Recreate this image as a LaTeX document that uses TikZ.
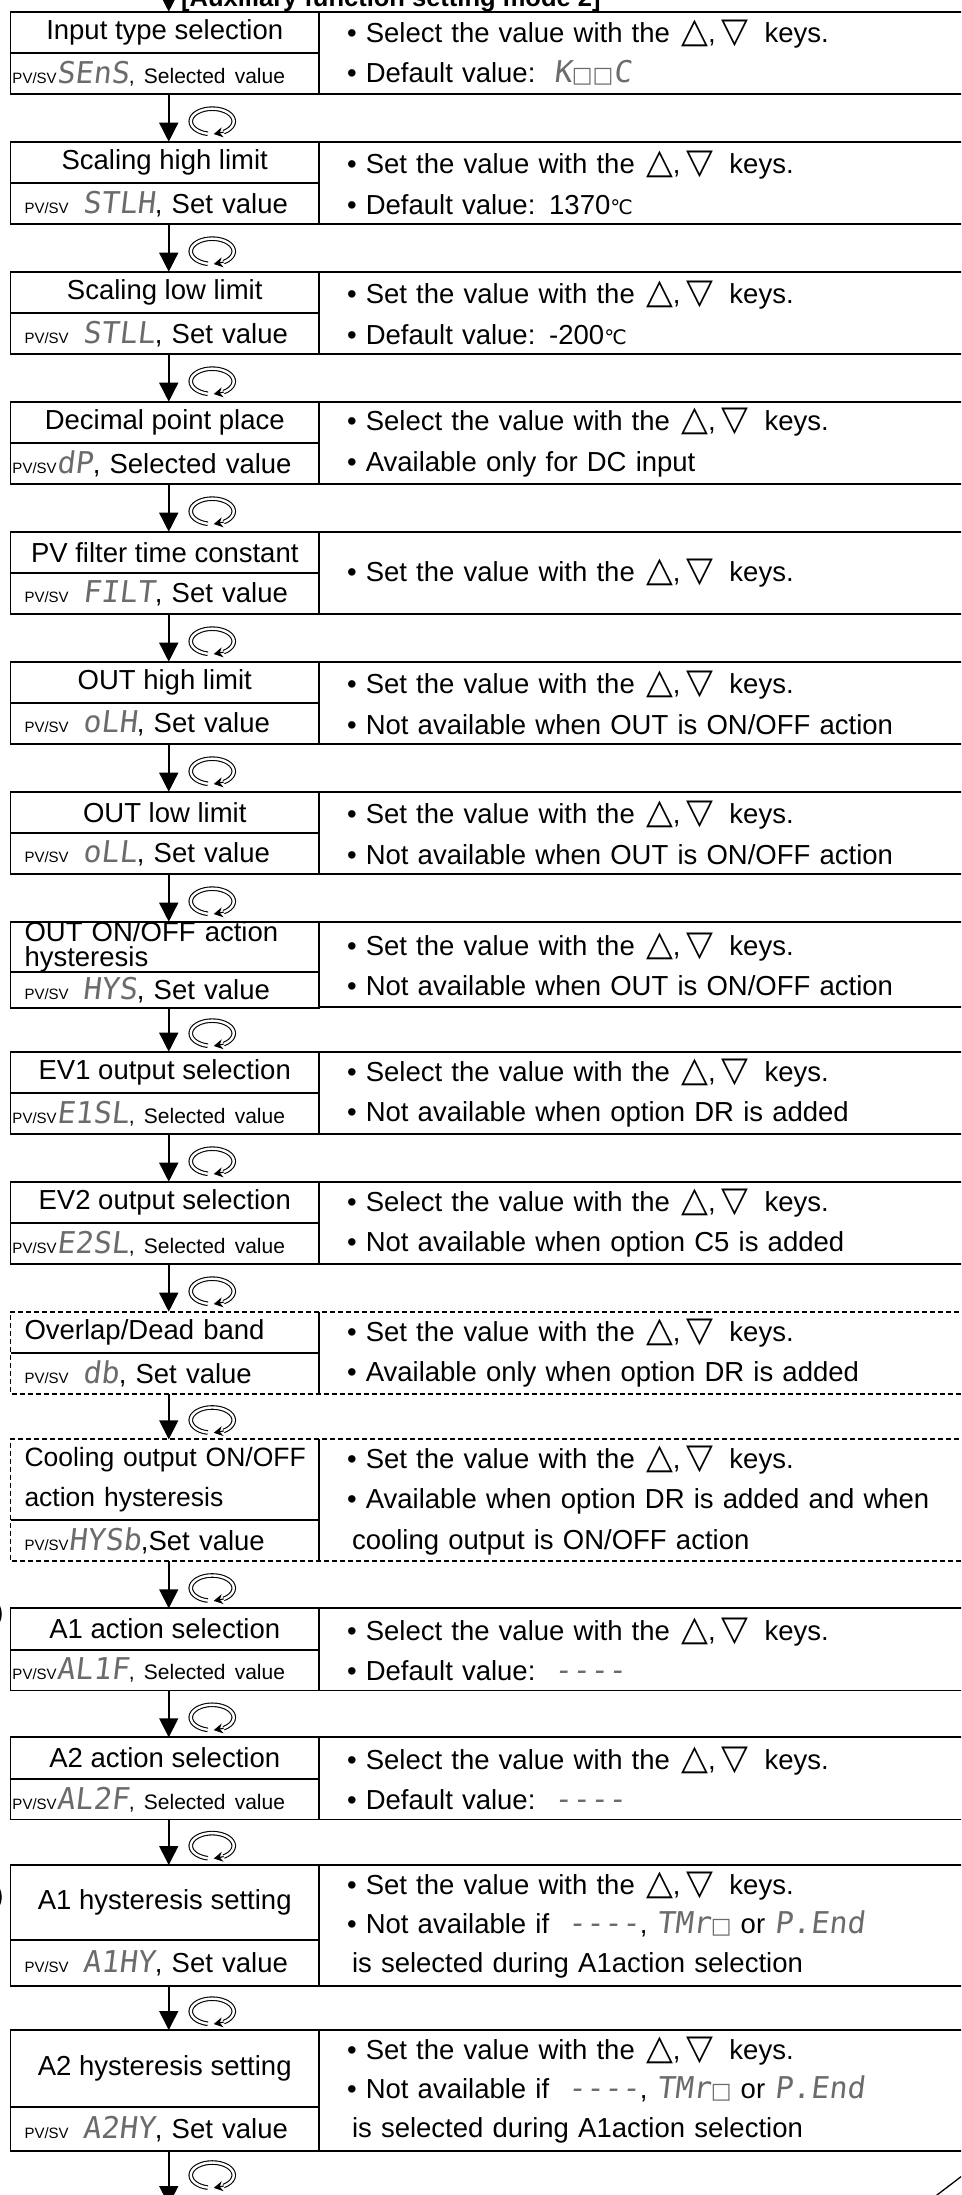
\documentclass[tikz,border=0pt]{standalone}
\usepackage{fontspec}
\setmainfont{Liberation Sans}
\newfontfamily\keyfont{DejaVu Sans}
\newfontfamily\dispfont[FakeSlant=0.12]{DejaVu Sans Mono}
\usetikzlibrary{arrows.meta, positioning, calc}

\definecolor{segcol}{gray}{0.42}

\newcommand{\mainsize}{\fontsize{27.5}{40.5}\selectfont}
\newcommand{\pvsv}{{\fontsize{15}{15}\selectfont PV/SV}}
\newcommand{\dispcode}[1]{{\dispfont\fontsize{30}{30}\selectfont\color{segcol}#1}}
\newcommand{\blankdig}{{\keyfont\fontsize{22}{22}\selectfont\color{segcol}□}}
\newcommand{\selval}{{\fontsize{21}{21}\selectfont , Selected value}}
\newcommand{\keyset}{\hspace{2pt}{\keyfont\fontsize{35}{35}\selectfont △},\hspace{6pt}{\keyfont\fontsize{35}{35}\selectfont ▽}\hspace{16pt}keys.}
\newcommand{\degc}{{\keyfont\fontsize{20}{20}\selectfont ℃}}

\begin{document}
\begin{tikzpicture}[
    x=1pt, y=1pt,
    font=\mainsize,
    namecell/.style={
        draw,
        line width=1.7pt,
        minimum width=308.5pt,
        minimum height=41.6pt,
        inner sep=0pt,
        outer sep=0pt,
        anchor=north west
    },
    nameleft/.style={namecell, text width=280.5pt, inner xsep=14pt, align=left},
    pvcell/.style={namecell, minimum height=40.7pt, text width=280.5pt, inner xsep=14pt, align=left},
    pvwide/.style={pvcell, text width=304.5pt, inner xsep=2pt},
    desccell/.style={
        draw,
        line width=1.7pt,
        minimum width=656pt,
        minimum height=82.3pt,
        text width=600pt,
        inner xsep=28pt,
        inner ysep=0pt,
        outer sep=0pt,
        align=left,
        anchor=north west
    },
    cellline/.style={line width=1.7pt},
    dashline/.style={line width=1.7pt, dash pattern=on 5pt off 3pt},
    flowarrow/.style={line width=1.5pt, -{Triangle[length=19pt, width=19pt]}},
    rotsym/.pic={
        \draw[line width=1.1pt, double distance=2.4pt]
            (258:21.5 and 12.7) arc[start angle=258, end angle=-58, x radius=21.5, y radius=12.7];
        \draw[line width=1.1pt, -{Stealth[length=9pt, width=10pt]}]
            (-58:21.5 and 12.7) -- (-86:21.5 and 12.7);
    }
]

    \useasboundingbox (0,0) rectangle (961,-2195);
    \clip (0,0) rectangle (961,-2195);

    % title, cut at the top edge
    \node[font=\bfseries\fontsize{25.5}{25.5}\selectfont, anchor=base west, inner sep=0pt] (title) at (181,-6.5) {[Auxiliary function setting mode 2]};
    \coordinate (head) at (168.75,25);

    % Input type selection
    \node[namecell] (n1) at (10.5,-11.7) {Input type selection};
    \node[pvwide, below=0pt of n1] (p1) {\pvsv\dispcode{SEnS}\selval};
    \node[desccell] (d1) at (n1.north east) {\textbullet\ Select the value with the \keyset\\\textbullet\ Default value:\ \ \dispcode{K}\blankdig\blankdig\dispcode{C}};

    % Scaling high limit
    \node[namecell] (n2) at (10.5,-141.7) {Scaling high limit};
    \node[pvcell, below=0pt of n2] (p2) {\pvsv\hspace{14pt}\dispcode{STLH}, Set value};
    \node[desccell] (d2) at (n2.north east) {\textbullet\ Set the value with the \keyset\\\textbullet\ Default value: 1370\degc};

    % Scaling low limit
    \node[namecell] (n3) at (10.5,-271.7) {Scaling low limit};
    \node[pvcell, below=0pt of n3] (p3) {\pvsv\hspace{14pt}\dispcode{STLL}, Set value};
    \node[desccell] (d3) at (n3.north east) {\textbullet\ Set the value with the \keyset\\\textbullet\ Default value: -200\degc};

    % Decimal point place
    \node[namecell] (n4) at (10.5,-401.7) {Decimal point place};
    \node[pvwide, below=0pt of n4] (p4) {\pvsv\dispcode{dP}, Selected value};
    \node[desccell] (d4) at (n4.north east) {\textbullet\ Select the value with the \keyset\\\textbullet\ Available only for DC input};

    % PV filter time constant
    \node[namecell] (n5) at (10.5,-531.7) {PV filter time constant};
    \node[pvcell, below=0pt of n5] (p5) {\pvsv\hspace{14pt}\dispcode{FILT}, Set value};
    \node[desccell] (d5) at (n5.north east) {\textbullet\ Set the value with the \keyset};

    % OUT high limit
    \node[namecell] (n6) at (10.5,-661.7) {OUT high limit};
    \node[pvcell, below=0pt of n6] (p6) {\pvsv\hspace{14pt}\dispcode{oLH}, Set value};
    \node[desccell] (d6) at (n6.north east) {\textbullet\ Set the value with the \keyset\\\textbullet\ Not available when OUT is ON/OFF action};

    % OUT low limit
    \node[namecell] (n7) at (10.5,-791.7) {OUT low limit};
    \node[pvcell, below=0pt of n7] (p7) {\pvsv\hspace{14pt}\dispcode{oLL}, Set value};
    \node[desccell] (d7) at (n7.north east) {\textbullet\ Set the value with the \keyset\\\textbullet\ Not available when OUT is ON/OFF action};

    % OUT ON/OFF action hysteresis
    \node[nameleft, minimum height=50pt, font=\fontsize{27.5}{25}\selectfont] (n8) at (10.5,-921.7) {OUT ON/OFF action\\hysteresis};
    \node[pvcell, minimum height=35.6pt, below=0pt of n8] (p8) {\pvsv\hspace{14pt}\dispcode{HYS}, Set value};
    \node[desccell, minimum height=85.6pt] (d8) at (n8.north east) {\textbullet\ Set the value with the \keyset\\\textbullet\ Not available when OUT is ON/OFF action};

    % EV1 output selection
    \node[namecell] (n9) at (10.5,-1051.7) {EV1 output selection};
    \node[pvwide, below=0pt of n9] (p9) {\pvsv\dispcode{E1SL}\selval};
    \node[desccell] (d9) at (n9.north east) {\textbullet\ Select the value with the \keyset\\\textbullet\ Not available when option DR is added};

    % EV2 output selection
    \node[namecell] (n10) at (10.5,-1181.7) {EV2 output selection};
    \node[pvwide, below=0pt of n10] (p10) {\pvsv\dispcode{E2SL}\selval};
    \node[desccell] (d10) at (n10.north east) {\textbullet\ Select the value with the \keyset\\\textbullet\ Not available when option C5 is added};

    % Overlap/Dead band (option, dashed)
    \node[nameleft, draw=none] (n11) at (10.5,-1311.7) {Overlap/Dead band};
    \node[pvcell, draw=none, below=0pt of n11] (p11) {\pvsv\hspace{14pt}\dispcode{db}, Set value};
    \node[desccell, draw=none] (d11) at (n11.north east) {\textbullet\ Set the value with the \keyset\\\textbullet\ Available only when option DR is added};
    \draw[cellline] (n11.south west) -- (n11.south east);
    \draw[cellline] (n11.north east) -- (p11.south east);
    \draw[dashline] (d11.north east) -- (n11.north west) -- (p11.south west) -- (d11.south east);

    % Cooling output ON/OFF action hysteresis (option, dashed)
    \node[nameleft, draw=none, minimum height=80.7pt, font=\fontsize{26.5}{40}\selectfont] (n12) at (10.5,-1439.3) {\mbox{Cooling output ON/OFF}\\action hysteresis};
    \node[pvcell, draw=none, minimum height=41pt, below=0pt of n12] (p12) {\pvsv\dispcode{HYSb},Set value};
    \node[desccell, draw=none, minimum height=121.7pt] (d12) at (n12.north east) {\textbullet\ Set the value with the \keyset\\\textbullet\ Available when option DR is added and when\\\hspace*{5pt}cooling output is ON/OFF action};
    \draw[cellline] (n12.south west) -- (n12.south east);
    \draw[cellline] (n12.north east) -- (p12.south east);
    \draw[dashline] (d12.north east) -- (n12.north west) -- (p12.south west) -- (d12.south east);

    % A1 action selection
    \node[namecell] (n13) at (10.5,-1608.3) {A1 action selection};
    \node[pvwide, below=0pt of n13] (p13) {\pvsv\dispcode{AL1F}\selval};
    \node[desccell] (d13) at (n13.north east) {\textbullet\ Select the value with the \keyset\\\textbullet\ Default value:\ \ \dispcode{----}};

    % A2 action selection
    \node[namecell] (n14) at (10.5,-1737.3) {A2 action selection};
    \node[pvwide, below=0pt of n14] (p14) {\pvsv\dispcode{AL2F}\selval};
    \node[desccell] (d14) at (n14.north east) {\textbullet\ Select the value with the \keyset\\\textbullet\ Default value:\ \ \dispcode{----}};

    % A1 hysteresis setting
    \node[namecell, minimum height=75pt] (n15) at (10.5,-1865) {A1 hysteresis setting};
    \node[pvcell, minimum height=45.7pt, below=0pt of n15] (p15) {\pvsv\hspace{14pt}\dispcode{A1HY}, Set value};
    \node[desccell, minimum height=120.7pt, font=\fontsize{27.5}{39}\selectfont] (d15) at (n15.north east) {\textbullet\ Set the value with the \keyset\\\textbullet\ Not available if\ \ \dispcode{----}, \dispcode{TMr}\blankdig{} or \dispcode{P.End}\\\hspace*{5pt}is selected during A1action selection};

    % A2 hysteresis setting
    \node[namecell, minimum height=76.7pt] (n16) at (10.5,-2030) {A2 hysteresis setting};
    \node[pvcell, minimum height=44pt, below=0pt of n16] (p16) {\pvsv\hspace{14pt}\dispcode{A2HY}, Set value};
    \node[desccell, minimum height=120.7pt, font=\fontsize{27.5}{39}\selectfont] (d16) at (n16.north east) {\textbullet\ Set the value with the \keyset\\\textbullet\ Not available if\ \ \dispcode{----}, \dispcode{TMr}\blankdig{} or \dispcode{P.End}\\\hspace*{5pt}is selected during A1action selection};
    \coordinate (tail) at (168.75,-2205);

    % Flow arrows with the mode key symbol
    \draw[flowarrow] (head) -- ([xshift=4pt]n1.north);
    \foreach \a/\b in {1/2, 2/3, 3/4, 4/5, 5/6, 6/7, 7/8, 8/9, 9/10, 10/11, 11/12, 12/13, 13/14, 14/15, 15/16} {
        \draw[flowarrow] ([xshift=4pt]p\a.south) -- ([xshift=4pt]n\b.north);
        \pic at ($(p\a.south)!0.5!(n\b.north)+(47.5,-3.5)$) {rotsym};
    }
    \draw[flowarrow] ([xshift=4pt]p16.south) -- (tail);
    \pic at ($(p16.south)+(47.5,-24.5)$) {rotsym};

    % pieces of the neighbouring page, cut at the edges
    \draw[line width=1.5pt] (-18,-1614) circle[radius=19];
    \draw[line width=1.5pt] (-18,-1897) circle[radius=19];
    \draw[line width=1.3pt] (930,-2200.3) -- (975,-2166);

\end{tikzpicture}
\end{document}
